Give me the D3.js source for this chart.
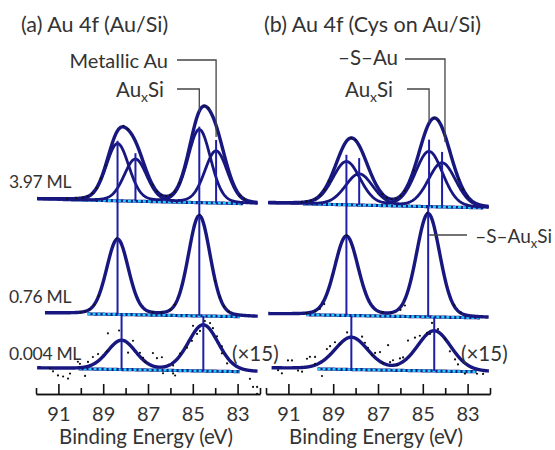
<!DOCTYPE html>
<html><head><meta charset="utf-8">
<script src="https://cdn.jsdelivr.net/npm/d3@7"></script>
<style>body{margin:0;background:#fff}text{font-family:Lato,"Open Sans",sans-serif;fill:#333}</style>
</head><body><svg id="c" width="555" height="450"></svg>
<script>
// ---------------- DATA ----------------
const panelTitles = ["(a) Au 4f (Au/Si)", "(b) Au 4f (Cys on Au/Si)"];
const coverageLabels = ["3.97 ML", "0.76 ML", "0.004 ML"];
const majorTicks = [91, 89, 87, 85, 83];
const tickLabels = ["91", "89", "87", "85", "83"];
const minorTicks = [92, 90, 88, 86, 84, 82];
const xLabel = "Binding Energy (eV)";
const scaleNote = "(×15)";

// linear backgrounds [intensity at 92 eV, intensity at 82 eV] (arb. units), top/middle/bottom
const baseA = [[195, 190], [81, 77], [26, 22]];
const baseB = [[191, 186], [80, 76], [26, 22]];
// energy span of fitted background (cyan) [from, to]
const bgSpanA = [[90.8, 82.75], [89.7, 82.9], [90.1, 82.9]];
const bgSpanB = [[90.35, 82.3], [90.2, 82.45], [89.7, 82.6]];

// fitted components: [center eV, height, FWHM eV]
const peaksA_top_silicide = [[88.36, 57, 1.2], [84.71, 73, 1.2]];
const peaksA_top_metal    = [[87.56, 42, 1.2], [83.96, 52, 1.2]];
const peaksA_mid = [[88.36, 75, 1.15], [84.71, 100, 1.15]];
const peaksA_bot = [[88.18, 29, 1.5], [84.53, 46, 1.6]];
const peaksB_top_silicide = [[88.41, 43, 1.45], [84.72, 55, 1.45]];
const peaksB_top_thiolate = [[87.84, 31, 1.45], [84.14, 44, 1.45]];
const peaksB_mid = [[88.41, 79, 1.24], [84.76, 103, 1.24]];
const peaksB_bot = [[88.19, 32, 1.75], [84.49, 40, 1.78]];
const lorentzFraction = 0.15;
// peak-marker heights for top spectra (same order as silicide, then metal/thiolate)
const markersA_top = [60, 76, 48, 63];
const markersB_top = [50, 67, 47, 55];

// measured points [eV, intensity above background]
const dotsA_top = [[90.6,1],[90.2,1.8],[89.9,2.5],[89.7,4],[89.5,7],[89.3,12.5],[89.1,22],[88.9,35],[88.1,75],[87.9,72],
  [86.8,17],[86.6,10.5],[86.4,7],[86.2,5.8],[86.0,7],[85.8,10.5],[85.6,19],[84.5,97],[84.3,95],[82.9,8],[82.7,5]];
const dotsA_mid = [[90.0,1.5],[89.8,2.4],[89.6,4.5],[89.4,9.2],[89.2,18],[88.4,76],[86.8,3],[86.4,2.8],[86.0,5.7],
  [85.8,10.8],[84.7,101],[84.0,35],[83.8,19],[83.6,10],[83.4,5]];
const dotsA_bot = [[88.79,36],[88.29,39],[87.67,29],[87.89,17],[88.83,18],[89.23,15],[89.46,12],[89.68,7],[90.13,7],
  [90.04,5],[91.38,0],[91.24,-3],[91.02,-7],[90.79,-8],[90.57,-10],[90.48,-5],[89.81,-7],[87.36,17],[87.22,12],
  [87.13,8],[86.78,17],[86.60,12],[86.38,13],[86.33,-3],[85.88,-3],[85.79,-5],[85.88,5],[85.57,17],[85.26,23],
  [85.04,30],[84.99,45],[84.81,37],[84.68,40],[84.46,50],[84.23,48],[84.10,43],[83.92,35],[83.70,25],[83.70,18],
  [83.47,8],[82.45,-7],[82.31,-15],[82.13,-22],[82.13,-15]];
const dotsB_top = [[90.4,1.5],[90.2,2.5],[90.0,3.5],[89.8,5.5],[89.6,9],[89.4,14.6],[89.2,23],[88.2,67],[88.0,65],
  [86.8,11.6],[86.6,8.1],[86.4,6.7],[86.2,7.4],[86.0,10.1],[85.8,15.2],[85.4,36],[84.5,89],[84.3,86],[83.4,28],[83.2,18],[83.0,11]];
const dotsB_mid = [[90.2,1.5],[89.8,3.5],[89.6,6],[89.4,11],[88.4,80],[86.8,4],[86.4,3.5],[86.0,6.5],[85.8,11],
  [84.8,104],[83.6,12],[83.3,5]];
const dotsB_bot = [[91.46,-2],[91.29,-5],[91.02,8],[90.84,8],[90.57,-2],[90.39,-3],[90.17,10],[90.04,12],[89.81,12],
  [89.81,5],[89.5,-7],[89.28,20],[89.14,23],[88.92,27],[88.7,25],[88.38,37],[87.71,33],[87.58,27],[87.45,22],
  [87.27,15],[87.13,17],[86.91,18],[86.55,25],[86.78,7],[86.46,8],[86.33,10],[86.02,12],[85.88,13],[86.15,5],
  [85.66,30],[85.35,33],[85.13,35],[84.81,38],[84.68,37],[84.59,48],[84.32,42],[84.01,32],[83.79,20],[83.56,12],
  [83.43,7],[83.12,-2],[82.58,-2],[82.31,-2]];

// ---------------- DRAWING ----------------
const svg = d3.select("#c");
const AXIS_Y = 394;
const y = d3.scaleLinear().domain([0, 320]).range([AXIS_Y, AXIS_Y - 320]);
const xA = d3.scaleLinear().domain([92, 82]).range([36, 260]);
const xB = d3.scaleLinear().domain([92, 82]).range([266, 490]);

const NAVY = "#17177f", MARK = "#1e1ea6", CYAN = "#22ccff";

function pv(E, p) {
  const d = E - p[0], w = p[2];
  const g = Math.exp(-4 * Math.LN2 * d * d / (w * w));
  const l = 1 / (1 + 4 * d * d / (w * w));
  return p[1] * ((1 - lorentzFraction) * g + lorentzFraction * l);
}
function bgFn(base) { return E => base[0] + (base[1] - base[0]) * (92 - E) / 10; }

const panels = [
  { x: xA, base: baseA, span: bgSpanA, curveFrom: [91.95, 91.6, 91.95], curveTo: 82.1,
    spectra: [
      { groups: [peaksA_top_silicide, peaksA_top_metal], markers: markersA_top, dots: dotsA_top },
      { groups: [peaksA_mid], dots: dotsA_mid },
      { groups: [peaksA_bot], dots: dotsA_bot }] },
  { x: xB, base: baseB, span: bgSpanB, curveFrom: [91.9, 91.9, 91.75], curveTo: 82.05,
    spectra: [
      { groups: [peaksB_top_silicide, peaksB_top_thiolate], markers: markersB_top, dots: dotsB_top },
      { groups: [peaksB_mid], dots: dotsB_mid },
      { groups: [peaksB_bot], dots: dotsB_bot }] }
];

panels.forEach((P, pi) => {
  const g = svg.append("g");
  const x = P.x;
  P.spectra.forEach((S, si) => {
    const bg = bgFn(P.base[si]);
    const allPeaks = S.groups.flat();
    const Es = d3.range(P.curveFrom[si], P.curveTo - 0.001, -0.02);
    const line = d3.line().x(d => x(d[0])).y(d => y(d[1]));
    // background
    const bs = P.span[si];
    const bgPts = d3.range(bs[0], bs[1] - 0.001, -0.05).map(E => [E, bg(E)]);
    g.append("path").attr("d", line(bgPts)).attr("fill", "none").attr("stroke", NAVY).attr("stroke-width", 3.2);
    g.append("path").attr("d", line(bgPts)).attr("fill", "none").attr("stroke", CYAN).attr("stroke-width", 2.6)
      .attr("stroke-dasharray", "3,2");
    // components (top spectra)
    if (S.groups.length > 1) {
      S.groups.forEach(grp => {
        const pts = Es.map(E => [E, bg(E) + d3.sum(grp, p => pv(E, p))]);
        g.append("path").attr("d", line(pts)).attr("fill", "none").attr("stroke", NAVY).attr("stroke-width", 2.8);
      });
    }
    // envelope
    const env = Es.map(E => [E, bg(E) + d3.sum(allPeaks, p => pv(E, p))]);
    g.append("path").attr("d", line(env)).attr("fill", "none").attr("stroke", NAVY).attr("stroke-width", 3.4)
      .attr("stroke-linejoin", "round");
    // peak markers
    if (si === 0) {
      allPeaks.forEach((p, k) => {
        g.append("line").attr("x1", x(p[0])).attr("x2", x(p[0]))
          .attr("y1", y(bg(p[0]))).attr("y2", y(bg(p[0]) + S.markers[k]))
          .attr("stroke", MARK).attr("stroke-width", 2);
      });
    } else {
      const bgPrev = bgFn(P.base[si - 1]);
      allPeaks.forEach(p => {
        g.append("line").attr("x1", x(p[0])).attr("x2", x(p[0]))
          .attr("y1", y(bgPrev(p[0]))).attr("y2", y(bg(p[0])))
          .attr("stroke", MARK).attr("stroke-width", 2);
      });
    }
    // measured points
    g.selectAll(null).data(S.dots).enter().append("circle")
      .attr("cx", d => x(d[0])).attr("cy", d => y(bg(d[0]) + d[1])).attr("r", 1.1).attr("fill", "#111");
  });

  // axis
  const ax = svg.append("g").attr("transform", `translate(0,${AXIS_Y})`);
  ax.call(d3.axisBottom(x).tickValues(minorTicks).tickSize(-6).tickSizeOuter(0).tickFormat(""));
  const ax2 = svg.append("g").attr("transform", `translate(0,${AXIS_Y})`);
  ax2.call(d3.axisBottom(x).tickValues(majorTicks).tickSize(-10).tickSizeOuter(0).tickPadding(13)
    .tickFormat((d, i) => tickLabels[i]));
  [ax, ax2].forEach(a => {
    a.selectAll("path,line").attr("stroke", "#111").attr("stroke-width", 1.6);
    a.selectAll("text").attr("font-size", 20).attr("font-family", "Lato").attr("fill", "#333");
  });
  svg.append("text").attr("x", (x.range()[0] + x.range()[1]) / 2 - 2).attr("y", 444)
    .attr("text-anchor", "middle").attr("font-size", 20.5).text(xLabel);
  svg.append("text").attr("x", pi === 0 ? 21 : 264).attr("y", 32).attr("font-size", 21.5).text(panelTitles[pi]);
  svg.append("text").attr("x", pi === 0 ? 232 : 461).attr("y", 361).attr("font-size", 20.5).text(scaleNote);
});

// coverage labels
[188, 303, 360].forEach((yy, i) => {
  svg.append("text").attr("x", 9).attr("y", yy).attr("font-size", 17.5).attr("letter-spacing", -0.3).text(coverageLabels[i]);
});

// annotation labels with leaders
function label(tx, ty, anchor, parts, fs) {
  const t = svg.append("text").attr("x", tx).attr("y", ty).attr("text-anchor", anchor).attr("font-size", fs);
  parts.forEach(p => {
    if (p.sub) t.append("tspan").attr("font-size", fs * 0.68).attr("dy", 5).text(p.t);
    else t.append("tspan").attr("dy", p.after ? -5 : 0).text(p.t);
  });
  return t;
}
function leader(pts) {
  svg.append("path").attr("d", d3.line()(pts)).attr("fill", "none").attr("stroke", "#444").attr("stroke-width", 1.3);
}
const bgAt = bgFn(baseA[0]), bgBt = bgFn(baseB[0]);
// panel a
label(168, 68, "end", [{ t: "Metallic Au" }], 20);
leader([[177, 60], [xA(peaksA_top_metal[1][0]), 60], [xA(peaksA_top_metal[1][0]), y(bgAt(83.96) + 66)]]);
label(164, 97, "end", [{ t: "Au" }, { t: "x", sub: true }, { t: "Si", after: true }], 20.5);
leader([[177, 89], [xA(peaksA_top_silicide[1][0]), 89], [xA(peaksA_top_silicide[1][0]), y(bgAt(84.71) + 91)]]);
// panel b
label(398, 65, "end", [{ t: "\u2013S\u2013Au" }], 20.5);
leader([[405, 59], [xB(84.01), 59], [xB(84.01), y(bgBt(84.01) + 65)]]);
label(393, 97, "end", [{ t: "Au" }, { t: "x", sub: true }, { t: "Si", after: true }], 20.5);
leader([[407, 89], [xB(peaksB_top_silicide[1][0]), 89], [xB(peaksB_top_silicide[1][0]), y(bgBt(84.72) + 84)]]);
const sLab = label(552, 243, "end", [{ t: "\u2013S\u2013Au" }, { t: "x", sub: true }, { t: "Si", after: true }], 19);
leader([[xB(peaksB_mid[1][0]) + 1, 235], [467, 235]]);
</script>
</body></html>
